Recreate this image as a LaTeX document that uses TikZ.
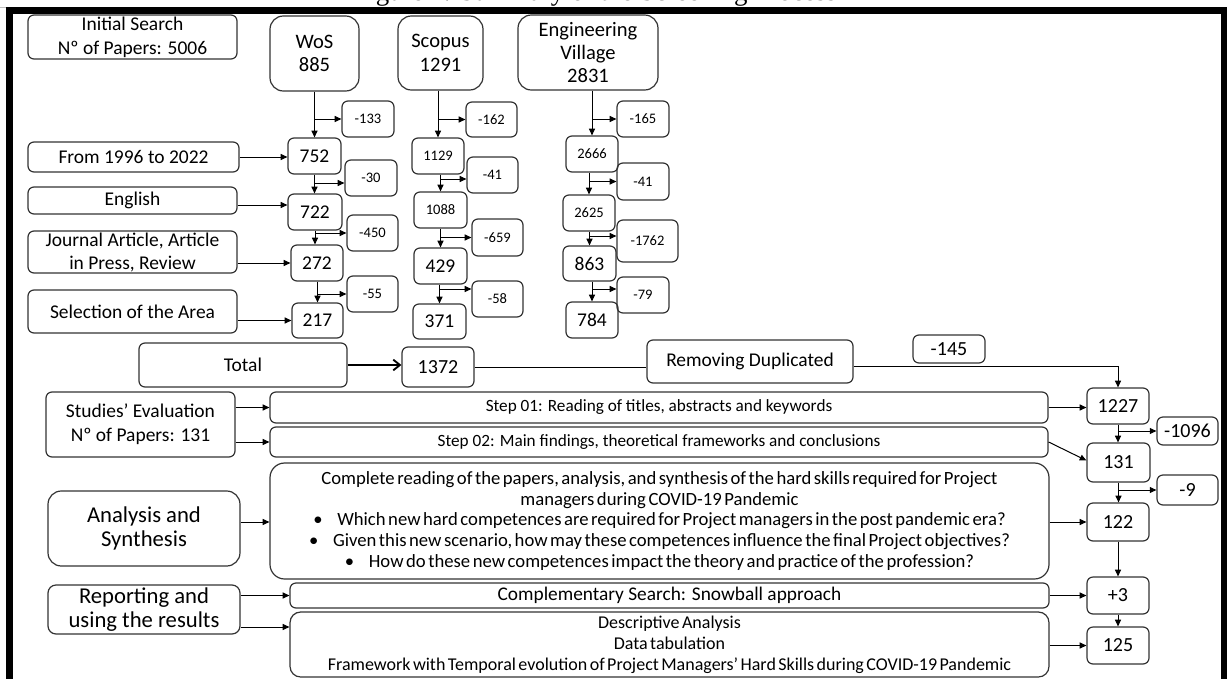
\documentclass[tikz,border=0pt]{standalone}
\usepackage{fontspec}
\setmainfont{Carlito}
\newfontfamily\capfont{Liberation Serif}
\newfontfamily\tightfont{Carlito}[WordSpace=0.6]
\usetikzlibrary{arrows.meta,calc}
\newcommand\mybox[7]{\node[#1,minimum width={(#5-#3)*0.75pt},minimum height={(#6-#4)*0.75pt}] (#2) at ({(#3+#5)/2},{(#4+#6)/2}) {#7};}
\tikzset{
  bx/.style={draw=black!80, line width=0.9pt, rounded corners=4.5pt, inner sep=0pt, align=center},
  bigr/.style={rounded corners=10pt},
  fA/.style={font=\fontsize{14.6pt}{18pt}\selectfont},
  fJ/.style={font=\fontsize{14.6pt}{17.25pt}\selectfont},
  fB/.style={font=\fontsize{15.4pt}{17.6pt}\selectfont},
  fS/.style={font=\fontsize{10.9pt}{13pt}\selectfont},
  fN/.style={font=\fontsize{15pt}{18pt}\selectfont},
  fL/.style={font=\fontsize{17pt}{18pt}\selectfont},
  fT/.style={font=\fontsize{12.9pt}{16pt}\selectfont},
  fW/.style={font=\fontsize{14.5pt}{16pt}\selectfont},
  fM/.style={font=\tightfont\fontsize{14pt}{15.5pt}\selectfont},
  fD/.style={font=\tightfont\fontsize{13.5pt}{15.75pt}\selectfont},
  arr/.style={line width=0.75pt, -{Triangle[length=5pt,width=4.5pt]}},
  ln/.style={line width=0.75pt},
  openarr/.style={line width=1.4pt, -{Straight Barb[length=5pt,width=8pt]}},
}
\begin{document}
\begin{tikzpicture}[x=0.75pt,y=-0.75pt]
\useasboundingbox (0,0) rectangle (1227,678);
\clip (0,0) rectangle (1227,678);
\fill[white] (0,0) rectangle (1227,678);
% caption (cut by the top of the picture)
\node[font=\capfont\fontsize{20.2pt}{24pt}\selectfont, anchor=base, inner sep=0pt] (cap) at (595,0.3) {Figure 1. Summary of the Screening Process};
\fill[white] (0,6) rectangle (1227,678);
\draw[black!25, line width=0.5pt] (0,7) -- (1227,7);
% frame
\draw[line width=4.8pt] (9.5,10.5) rectangle (1224,720);

% databases
\mybox{bx,fA}{init}{28}{15}{237}{59}{Initial Search\\Nº of Papers: 5006}
\mybox{bx,bigr,fB}{wos}{270}{16}{359}{91}{WoS\\885}
\mybox{bx,bigr,fB}{scopus}{398}{16}{483}{90}{Scopus\\1291}
\mybox{bx,bigr,fB}{ev}{518}{15}{658}{90}{Engineering\\Village\\2831}

% filters
\mybox{bx,fA}{f1996}{28}{142}{239}{172}{From 1996 to 2022}
\mybox{bx,fA}{eng}{28}{187}{237}{214}{English}
\mybox{bx,fJ}{journal}{28}{231}{237}{273}{Journal Article, Article\\in Press, Review}
\mybox{bx,fA}{sel}{28}{290}{237}{333}{Selection of the Area}

% WoS column
\mybox{bx,fS}{m133}{342}{101}{394}{137}{-133}
\mybox{bx,fA}{n752}{288}{138}{341}{174}{752}
\mybox{bx,fS}{m30}{345}{160}{397}{196}{-30}
\mybox{bx,fA}{n722}{288}{194}{342}{230}{722}
\mybox{bx,fS}{m450}{347}{215}{398}{251}{-450}
\mybox{bx,fA}{n272}{291}{245}{343}{281}{272}
\mybox{bx,fS}{m55}{347}{276}{398}{312}{-55}
\mybox{bx,fA}{n217}{292}{303}{343}{338}{217}

% Scopus column
\mybox{bx,fS}{m162}{466}{102}{517}{137}{-162}
\mybox{bx,fS}{n1129}{412}{138}{464}{174}{1129}
\mybox{bx,fS}{m41a}{467}{157}{518}{193}{-41}
\mybox{bx,fS}{n1088}{414}{192}{467}{228}{1088}
\mybox{bx,fS}{m659}{472}{219}{523}{256}{-659}
\mybox{bx,fA}{n429}{414}{248}{467}{284}{429}
\mybox{bx,fS}{m58}{472}{281}{523}{317}{-58}
\mybox{bx,fA}{n371}{413}{304}{466}{339}{371}

% Engineering Village column
\mybox{bx,fS}{m165}{617}{101}{669}{137}{-165}
\mybox{bx,fS}{n2666}{566}{136}{618}{172}{2666}
\mybox{bx,fS}{m41b}{617}{163}{669}{200}{-41}
\mybox{bx,fS}{n2625}{563}{195}{615}{231}{2625}
\mybox{bx,fS}{m1762}{617}{220}{678}{262}{-1762}
\mybox{bx,fA}{n863}{563}{246}{616}{281}{863}
\mybox{bx,fS}{m79}{617}{277}{669}{313}{-79}
\mybox{bx,fA}{n784}{566}{302}{618}{338}{784}

% total row
\mybox{bx,fA}{total}{139}{343}{347}{387}{Total}
\mybox{bx,fN}{n1372}{402}{347}{474}{387}{1372}
\mybox{bx,fA}{rem}{647}{340}{853}{383}{Removing Duplicated}
\mybox{bx,fN}{m145}{913}{335}{985}{363}{-145}

% evaluation
\mybox{bx,fA}{stud}{46}{392}{235}{457}{Studies’ Evaluation\\Nº of Papers: 131}
\mybox{bx,fT}{step1}{270}{392}{1048}{423}{Step 01: Reading of titles, abstracts and keywords}
\mybox{bx,fT}{step2}{270}{427}{1048}{457}{Step 02: Main findings, theoretical  frameworks and conclusions}
\mybox{bx,fN}{n1227}{1087}{388}{1149}{424}{1227}
\mybox{bx,fN}{m1096}{1157}{417}{1218}{445}{-1096}
\mybox{bx,fN}{n131}{1087}{443}{1150}{482}{131}
\mybox{bx,fN}{m9}{1157}{475}{1218}{505}{-9}

% analysis
\mybox{bx,bigr,fL}{ana}{48}{491}{240}{566}{Analysis and\\Synthesis}
\mybox{bx,rounded corners=11pt,fM}{big}{270}{463}{1049}{579}{Complete reading of the papers, analysis, and synthesis of the hard skills required for Project\\managers during COVID-19 Pandemic\\\textbullet\hspace{11pt}Which new hard competences are required for Project managers in the post pandemic era?\\\textbullet\hspace{11pt}Given this new scenario, how may these competences influence the final Project objectives?\\\textbullet\hspace{11pt}How do these new competences impact the theory and practice of the profession?}
\mybox{bx,fN}{n122}{1087}{503}{1149}{541}{122}

% reporting
\mybox{bx,rounded corners=6pt,fL}{rep}{48}{585}{240}{634}{Reporting and\\using the results}
\mybox{bx,fW}{snow}{290}{583}{1049}{608}{Complementary  Search: Snowball approach}
\mybox{bx,rounded corners=8pt,fD}{bot}{290}{612}{1049}{677}{Descriptive Analysis\\Data tabulation\\Framework with Temporal evolution of Project Managers’ Hard Skills during COVID-19 Pandemic}
\mybox{bx,fN}{n3}{1087}{577}{1149}{614}{+3}
\mybox{bx,fN}{n125}{1087}{627}{1149}{664}{125}

% ---- connectors: WoS
\draw[arr] (n752.north |- wos.south) -- (n752.north);
\draw[arr] (n752.north |- m133.west) -- (m133.west);
\draw[arr] (n752.south) -- (n752.south |- n722.north);
\coordinate (b30) at ($(m30.west)+(0,5)$);
\draw[arr] (n752.south |- b30) -- (b30);
\draw[arr] (n722.south) -- (n722.south |- n272.north);
\draw[arr] (n722.south |- m450.west) -- (m450.west);
\draw[arr] (n217.north |- n272.south) -- (n217.north);
\draw[arr] (n217.north |- m55.west) -- (m55.west);
% filters
\draw[arr] (f1996.east) -- (f1996.east -| n752.west);
\coordinate (beng) at ($(eng.east)+(0,4.5)$);
\draw[arr] (beng) -- (beng -| n722.west);
\draw[arr] (journal.east |- n272.west) -- (n272.west);
\draw[arr] (sel.east |- n217.west) -- (n217.west);
% Scopus
\draw[arr] (n1129.north |- scopus.south) -- (n1129.north);
\draw[arr] (n1129.north |- m162.west) -- (m162.west);
\draw[arr] (n1088.north |- n1129.south) -- (n1088.north);
\coordinate (b41a) at ($(m41a.west)+(0,4)$);
\draw[arr] (n1088.north |- b41a) -- (b41a);
\draw[arr] (n429.north |- n1088.south) -- (n429.north);
\draw[arr] (n429.north |- m659.west) -- (m659.west);
\draw[arr] (n371.north |- n429.south) -- (n371.north);
\coordinate (b58) at ($(m58.west)+(0,-10)$);
\draw[arr] (n371.north |- b58) -- (b58);
% Engineering Village
\draw[arr] (n2666.north |- ev.south) -- (n2666.north);
\draw[arr] (n2666.north |- m165.west) -- (m165.west);
\draw[arr] (n2625.north |- n2666.south) -- (n2625.north);
\draw[arr] (n2625.north |- m41b.west) -- (m41b.west);
\draw[arr] (n863.north |- n2625.south) -- (n863.north);
\coordinate (b1762) at ($(m1762.west)+(0,-5)$);
\draw[arr] (n863.north |- b1762) -- (b1762);
\draw[arr] (n784.north |- n863.south) -- (n784.north);
\coordinate (b79) at ($(m79.west)+(0,-6)$);
\draw[arr] (n784.north |- b79) -- (b79);
% total row
\draw[openarr] (total.east) -- (total.east -| n1372.west);
\draw[ln] (n1372.east) -- (n1372.east -| rem.west);
\coordinate (brem) at ($(rem.east)+(0,5)$);
\draw[arr] (brem) -| (n1227.north);
% evaluation
\draw[arr] (stud.east |- step1.west) -- (step1.west);
\draw[arr] (stud.east |- step2.west) -- (step2.west);
\draw[arr] (step1.east) -- (step1.east -| n1227.west);
\draw[arr] (step2.east) -- ($(n131.west)+(0,-2)$);
\draw[arr] (n1227.south) -- (n1227.south |- n131.north);
\draw[arr] (n1227.south |- m1096.west) -- (m1096.west);
\draw[arr] (n131.south) -- (n131.south |- n122.north);
\draw[arr] (n131.south |- m9.west) -- (m9.west);
% analysis and reporting
\draw[arr] (ana.east |- n122.west) -- (n122.west -| big.west);
\draw[arr] (big.east |- n122.west) -- (n122.west);
\draw[arr] (n122.south) -- (n122.south |- n3.north);
\draw[arr] (rep.east |- snow.west) -- (snow.west);
\coordinate (brep) at ($(rep.east)+(0,17.5)$);
\draw[arr] (brep) -- (brep -| bot.west);
\draw[arr] (snow.east |- n3.west) -- (n3.west);
\draw[arr] (n3.south) -- (n3.south |- n125.north);
\draw[arr] (bot.east |- n125.west) -- (n125.west);
\end{tikzpicture}
\end{document}
